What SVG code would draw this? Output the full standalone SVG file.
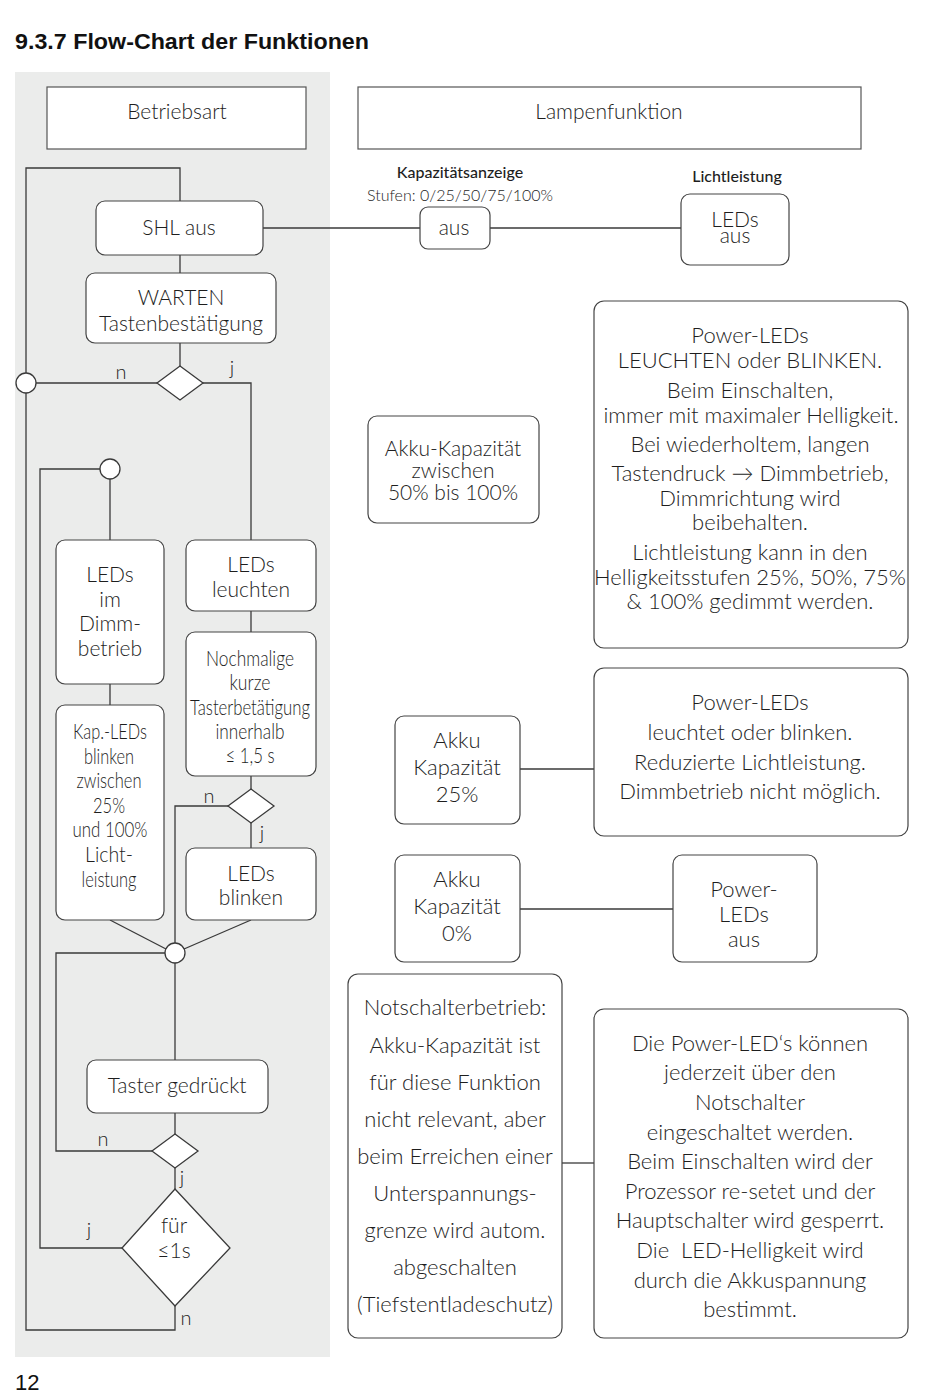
<svg xmlns="http://www.w3.org/2000/svg" width="950" height="1394" viewBox="0 0 950 1394">
<style>
.t{font-family:Lato,"Open Sans","DejaVu Sans",sans-serif;font-weight:300;fill:#1e1e1e;text-anchor:middle;font-size:21px}
.s{font-size:22px}
.c{font-size:21px}
.b{fill:#fff;stroke:#444;stroke-width:1.2}
.ln{stroke:#3a3a3a;stroke-width:1.3;fill:none}
.lab{font-family:Lato,"Open Sans","DejaVu Sans",sans-serif;fill:#1e1e1e;font-size:16px;text-anchor:middle}
</style>
<rect width="950" height="1394" fill="#fff"/>
<text x="15" y="49" font-family="Liberation Sans,Arial,sans-serif" font-weight="bold" font-size="22" textLength="354" lengthAdjust="spacingAndGlyphs" fill="#111">9.3.7 Flow-Chart der Funktionen</text>
<rect x="15" y="72" width="315" height="1285" fill="#ebeceb"/>

<g id="connectors">
<polyline class="ln" points="26,373 26,168 180,168 180,201"/>
<line class="ln" x1="180" y1="255" x2="180" y2="273"/>
<line class="ln" x1="180" y1="343" x2="180" y2="366"/>
<line class="ln" x1="36" y1="383" x2="157" y2="383"/>
<polyline class="ln" points="203,383 251,383 251,540"/>
<line class="ln" x1="263" y1="228" x2="420" y2="228"/>
<line class="ln" x1="490" y1="228" x2="681" y2="228"/>
<line class="ln" x1="110" y1="479" x2="110" y2="540"/>
<line class="ln" x1="110" y1="684" x2="110" y2="705"/>
<line class="ln" x1="251" y1="611" x2="251" y2="632"/>
<line class="ln" x1="251" y1="776" x2="251" y2="789"/>
<line class="ln" x1="251" y1="823" x2="251" y2="848"/>
<polyline class="ln" points="228,806 175,806 175,943"/>
<line class="ln" x1="110" y1="920" x2="166" y2="949"/>
<line class="ln" x1="251" y1="920" x2="184" y2="949"/>
<line class="ln" x1="175" y1="963" x2="175" y2="1060"/>
<polyline class="ln" points="165,953 56,953 56,1151 152,1151"/>
<line class="ln" x1="175" y1="1113" x2="175" y2="1134"/>
<line class="ln" x1="175" y1="1168" x2="175" y2="1189"/>
<polyline class="ln" points="122,1248 40,1248 40,469 100,469"/>
<polyline class="ln" points="175,1306 175,1330 26,1330 26,393"/>
<line class="ln" x1="520" y1="769" x2="594" y2="769"/>
<line class="ln" x1="520" y1="909" x2="673" y2="909"/>
<line class="ln" x1="562" y1="1163" x2="594" y2="1163"/>
</g>

<g id="betriebsart"><rect class="b" x="47" y="87" width="259" height="62" style="stroke:#555"/><text class="t" x="177" y="119">Betriebsart</text></g>
<g id="lampenfunktion"><rect class="b" x="358" y="87" width="503" height="62" style="stroke:#555"/><text class="t" x="609" y="119">Lampenfunktion</text></g>

<g id="kapazitaet-label"><text class="lab" x="460" y="178" style="font-weight:500">Kapazitätsanzeige</text><text class="lab" x="460" y="201" style="font-weight:300">Stufen: 0/25/50/75/100%</text></g>
<g id="lichtleistung-label"><text class="lab" x="737" y="182" style="font-weight:500">Lichtleistung</text></g>

<g id="shl-aus"><rect class="b" x="96" y="201" width="167" height="54" rx="9"/><text class="t" x="179" y="235">SHL aus</text></g>
<g id="kap-aus"><rect class="b" x="420" y="207" width="70" height="42" rx="8"/><text class="t" x="454" y="235">aus</text></g>
<g id="leds-aus"><rect class="b" x="681" y="194" width="108" height="71" rx="9"/><text class="t" x="735" y="227">LEDs</text><text class="t" x="735" y="243">aus</text></g>

<g id="warten"><rect class="b" x="86" y="273" width="190" height="70" rx="9"/><text class="t" x="181" y="305">WARTEN</text><text class="t" x="181" y="331">Tastenbestätigung</text></g>

<g id="junction1"><circle cx="26" cy="383" r="10" fill="#fff" stroke="#3a3a3a" stroke-width="1.3"/></g>
<g id="decision1"><polygon points="180,366 203,383 180,400 157,383" fill="#fff" stroke="#3a3a3a" stroke-width="1.3"/><text class="t" x="121" y="379" style="font-size:20px">n</text><text class="t" x="232" y="375" style="font-size:20px">j</text></g>

<g id="junction2"><circle cx="110" cy="469" r="10" fill="#fff" stroke="#3a3a3a" stroke-width="1.3"/></g>

<g id="leds-dimm"><rect class="b" x="56" y="540" width="108" height="144" rx="9"/><text class="t" x="110" y="582">LEDs</text><text class="t" x="110" y="607">im</text><text class="t" x="110" y="631">Dimm-</text><text class="t" x="110" y="656">betrieb</text></g>
<g id="leds-leuchten"><rect class="b" x="186" y="540" width="130" height="71" rx="9"/><text class="t" x="251" y="572">LEDs</text><text class="t" x="251" y="597">leuchten</text></g>

<g id="nochmalige"><rect class="b" x="186" y="632" width="130" height="144" rx="9"/>
<text class="t c" x="250" y="666" textLength="88" lengthAdjust="spacingAndGlyphs">Nochmalige</text>
<text class="t c" x="250" y="690" textLength="41" lengthAdjust="spacingAndGlyphs">kurze</text>
<text class="t c" x="250" y="715" textLength="120" lengthAdjust="spacingAndGlyphs">Tasterbetätigung</text>
<text class="t c" x="250" y="739" textLength="69" lengthAdjust="spacingAndGlyphs">innerhalb</text>
<text class="t c" x="250" y="763" textLength="49" lengthAdjust="spacingAndGlyphs">≤ 1,5 s</text></g>

<g id="kap-leds"><rect class="b" x="56" y="705" width="108" height="215" rx="9"/>
<text class="t c" x="110" y="739" textLength="74" lengthAdjust="spacingAndGlyphs">Kap.-LEDs</text>
<text class="t c" x="109" y="764" textLength="50" lengthAdjust="spacingAndGlyphs">blinken</text>
<text class="t c" x="109" y="788" textLength="65" lengthAdjust="spacingAndGlyphs">zwischen</text>
<text class="t c" x="109" y="813" textLength="32" lengthAdjust="spacingAndGlyphs">25%</text>
<text class="t c" x="110" y="837" textLength="75" lengthAdjust="spacingAndGlyphs">und 100%</text>
<text class="t c" x="109" y="862" textLength="48" lengthAdjust="spacingAndGlyphs">Licht-</text>
<text class="t c" x="109" y="887" textLength="55" lengthAdjust="spacingAndGlyphs">leistung</text></g>

<g id="decision2"><polygon points="251,789 274,806 251,823 228,806" fill="#fff" stroke="#3a3a3a" stroke-width="1.3"/><text class="t" x="209" y="803" style="font-size:20px">n</text><text class="t" x="262" y="840" style="font-size:20px">j</text></g>

<g id="leds-blinken"><rect class="b" x="186" y="848" width="130" height="72" rx="9"/><text class="t" x="251" y="881">LEDs</text><text class="t" x="251" y="905">blinken</text></g>

<g id="junction3"><circle cx="175" cy="953" r="10" fill="#fff" stroke="#3a3a3a" stroke-width="1.3"/></g>

<g id="taster"><rect class="b" x="87" y="1060" width="181" height="53" rx="9"/><text class="t" x="177" y="1093">Taster gedrückt</text></g>

<g id="decision3"><polygon points="175,1134 198,1151 175,1168 152,1151" fill="#fff" stroke="#3a3a3a" stroke-width="1.3"/><text class="t" x="103" y="1146" style="font-size:20px">n</text><text class="t" x="182" y="1185" style="font-size:20px">j</text></g>

<g id="decision4"><polygon points="175,1189 230,1248 175,1306 122,1248" fill="#fff" stroke="#3a3a3a" stroke-width="1.3"/><text class="t" x="174" y="1233">für</text><text class="t" x="174" y="1258">≤1s</text><text class="t" x="89" y="1237" style="font-size:20px">j</text><text class="t" x="186" y="1325" style="font-size:20px">n</text></g>

<g id="power-leds-main"><rect class="b" x="594" y="301" width="314" height="347" rx="10"/>
<text class="t s" x="750" y="343">Power-LEDs</text>
<text class="t s" x="750" y="368">LEUCHTEN oder BLINKEN.</text>
<text class="t s" x="750" y="398">Beim Einschalten,</text>
<text class="t s" x="751" y="423">immer mit maximaler Helligkeit.</text>
<text class="t s" x="750" y="452">Bei wiederholtem, langen</text>
<text class="t s" x="750" y="481">Tastendruck → Dimmbetrieb,</text>
<text class="t s" x="750" y="506">Dimmrichtung wird</text>
<text class="t s" x="750" y="530">beibehalten.</text>
<text class="t s" x="750" y="560">Lichtleistung kann in den</text>
<text class="t s" x="750" y="585">Helligkeitsstufen 25%, 50%, 75%</text>
<text class="t s" x="750" y="609">&amp; 100% gedimmt werden.</text></g>

<g id="akku-50-100"><rect class="b" x="368" y="416" width="171" height="107" rx="9"/>
<text class="t" x="453" y="456">Akku-Kapazität</text>
<text class="t" x="453" y="478">zwischen</text>
<text class="t" x="453" y="500">50% bis 100%</text></g>

<g id="akku-25"><rect class="b" x="395" y="716" width="125" height="108" rx="9"/>
<text class="t s" x="457" y="748">Akku</text>
<text class="t s" x="457" y="775">Kapazität</text>
<text class="t s" x="457" y="802">25%</text></g>

<g id="power-leds-25"><rect class="b" x="594" y="668" width="314" height="168" rx="10"/>
<text class="t s" x="750" y="710">Power-LEDs</text>
<text class="t s" x="750" y="740">leuchtet oder blinken.</text>
<text class="t s" x="750" y="770">Reduzierte Lichtleistung.</text>
<text class="t s" x="750" y="799">Dimmbetrieb nicht möglich.</text></g>

<g id="akku-0"><rect class="b" x="395" y="855" width="125" height="107" rx="9"/>
<text class="t s" x="457" y="887">Akku</text>
<text class="t s" x="457" y="914">Kapazität</text>
<text class="t s" x="457" y="941">0%</text></g>

<g id="power-leds-aus"><rect class="b" x="673" y="855" width="144" height="107" rx="9"/>
<text class="t s" x="744" y="897">Power-</text>
<text class="t s" x="744" y="922">LEDs</text>
<text class="t s" x="744" y="947">aus</text></g>

<g id="notschalter"><rect class="b" x="348" y="974" width="214" height="364" rx="10"/>
<text class="t s" x="455" y="1015">Notschalterbetrieb:</text>
<text class="t s" x="455" y="1053">Akku-Kapazität ist</text>
<text class="t s" x="455" y="1090">für diese Funktion</text>
<text class="t s" x="455" y="1127">nicht relevant, aber</text>
<text class="t s" x="455" y="1164">beim Erreichen einer</text>
<text class="t s" x="455" y="1201">Unterspannungs-</text>
<text class="t s" x="455" y="1238">grenze wird autom.</text>
<text class="t s" x="455" y="1275">abgeschalten</text>
<text class="t s" x="455" y="1312">(Tiefstentladeschutz)</text></g>

<g id="power-led-notschalter"><rect class="b" x="594" y="1009" width="314" height="329" rx="10"/>
<text class="t s" x="750" y="1051">Die Power-LED‘s können</text>
<text class="t s" x="750" y="1080">jederzeit über den</text>
<text class="t s" x="750" y="1110">Notschalter</text>
<text class="t s" x="750" y="1140">eingeschaltet werden.</text>
<text class="t s" x="750" y="1169">Beim Einschalten wird der</text>
<text class="t s" x="750" y="1199">Prozessor re-setet und der</text>
<text class="t s" x="750" y="1228">Hauptschalter wird gesperrt.</text>
<text class="t s" x="750" y="1258" xml:space="preserve">Die  LED-Helligkeit wird</text>
<text class="t s" x="750" y="1288">durch die Akkuspannung</text>
<text class="t s" x="750" y="1317">bestimmt.</text></g>

<text x="15" y="1390" font-family="Liberation Sans,Arial,sans-serif" font-size="22" fill="#111">12</text>
</svg>
